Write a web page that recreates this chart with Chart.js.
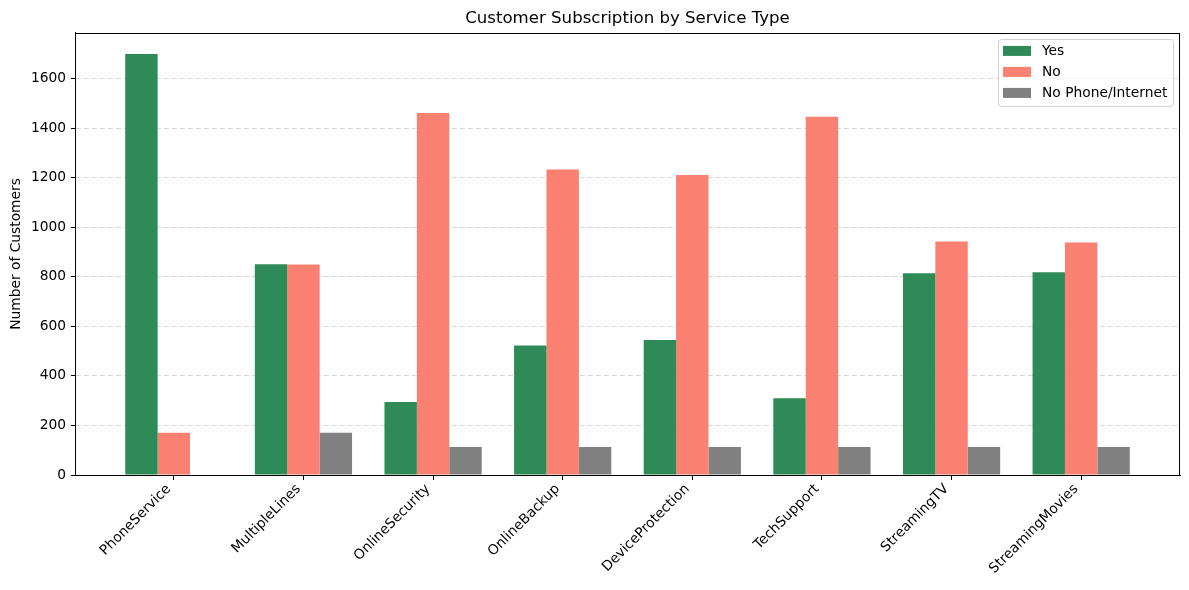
<!DOCTYPE html>
<html>
<head>
<meta charset="utf-8">
<script src="https://cdn.jsdelivr.net/npm/chart.js@4/dist/chart.umd.min.js"></script>
<style>
  html, body { margin: 0; padding: 0; background: #fff; }
  #wrap { width: 1189px; height: 590px; position: relative; }
</style>
</head>
<body>
<div id="wrap"><canvas id="c" width="1189" height="590"></canvas></div>
<script>
const categories = ['PhoneService', 'MultipleLines', 'OnlineSecurity', 'OnlineBackup', 'DeviceProtection', 'TechSupport', 'StreamingTV', 'StreamingMovies'];
const seriesNames = ['Yes', 'No', 'No Phone/Internet'];
const yesValues = [1699, 850, 295, 523, 545, 310, 814, 818];
const noValues = [170, 849, 1461, 1233, 1211, 1446, 942, 938];
const noServiceValues = [0, 170, 113, 113, 113, 113, 113, 113];
const yTicks = [0, 200, 400, 600, 800, 1000, 1200, 1400, 1600];
const seriesColors = ['#2E8B57', '#FA8072', '#808080'];

const FONT = 'DejaVu Sans';
const FS = 13.8;
Chart.defaults.font.family = FONT;
Chart.defaults.color = '#000';

const toPts = arr => arr.map((v, i) => ({ x: i, y: v }));
const allSeries = [yesValues, noValues, noServiceValues];

const frame = {
  id: 'frame',
  afterDraw(chart) {
    const { ctx, chartArea: a } = chart;
    ctx.save();
    ctx.strokeStyle = '#000';
    ctx.lineWidth = 1;
    ctx.strokeRect(Math.round(a.left) + 0.5, Math.round(a.top) + 0.5, Math.round(a.right - a.left) - 1, Math.round(a.bottom - a.top));
    // legend
    const items = chart.data.datasets;
    const bx = a.right - 182, by = a.top + 6, bw = 175, bh = 67;
    ctx.fillStyle = 'rgba(255,255,255,0.8)';
    ctx.strokeStyle = '#d0d0d0';
    ctx.beginPath();
    ctx.roundRect(bx + 0.5, by + 0.5, bw, bh, 3);
    ctx.fill();
    ctx.stroke();
    ctx.font = FS + 'px ' + FONT;
    ctx.textBaseline = 'middle';
    ctx.textAlign = 'left';
    items.forEach((d, i) => {
      const cy = by + 12 + i * 21;
      ctx.fillStyle = d.backgroundColor;
      ctx.fillRect(bx + 5, cy - 5, 28, 10);
      ctx.fillStyle = '#000';
      ctx.fillText(d.label, bx + 44, cy);
    });
    ctx.restore();
  }
};

new Chart(document.getElementById('c'), {
  type: 'bar',
  data: {
    datasets: seriesNames.map((n, k) => ({
      label: n,
      data: toPts(allSeries[k]),
      backgroundColor: seriesColors[k],
      borderWidth: 0,
      categoryPercentage: 0.75,
      barPercentage: 1.0
    }))
  },
  options: {
    responsive: false,
    animation: false,
    devicePixelRatio: 1,
    layout: { padding: { left: 0, right: 9, top: 0, bottom: 0 } },
    plugins: {
      legend: { display: false },
      tooltip: { enabled: false },
      title: {
        display: true,
        fullSize: false,
        text: 'Customer Subscription by Service Type',
        font: { size: 16.6, weight: 'normal', family: FONT },
        color: '#000',
        padding: { top: 9, bottom: 4 }
      }
    },
    scales: {
      x: {
        type: 'linear',
        min: -0.7625,
        max: categories.length - 1 + 0.7625,
        offset: false,
        afterBuildTicks: s => { s.ticks = categories.map((_, i) => ({ value: i })); },
        afterFit: s => { s.height = 115; },
        ticks: {
          autoSkip: false,
          maxRotation: 45,
          minRotation: 45,
          padding: 1,
          labelOffset: -5,
          font: { size: FS },
          color: '#000',
          callback: v => categories[v]
        },
        grid: { offset: false, drawOnChartArea: false, drawTicks: true, tickLength: 5, tickColor: '#000' },
        border: { display: true, color: '#000' }
      },
      y: {
        min: 0,
        max: 1784,
        afterBuildTicks: s => { s.ticks = yTicks.map(v => ({ value: v })); },
        afterFit: s => { s.width = 75; },
        ticks: { padding: 5, font: { size: FS }, color: '#000', callback: v => String(v) },
        title: { display: true, text: 'Number of Customers', font: { size: FS }, color: '#000', padding: { top: 8, bottom: 4 } },
        grid: { color: 'rgba(128,128,128,0.32)', lineWidth: 1, drawTicks: true, tickLength: 4, tickColor: '#000', tickBorderDash: [] },
        border: { display: true, color: '#000', dash: [5, 3] }
      }
    }
  },
  plugins: [frame]
});
</script>
</body>
</html>
